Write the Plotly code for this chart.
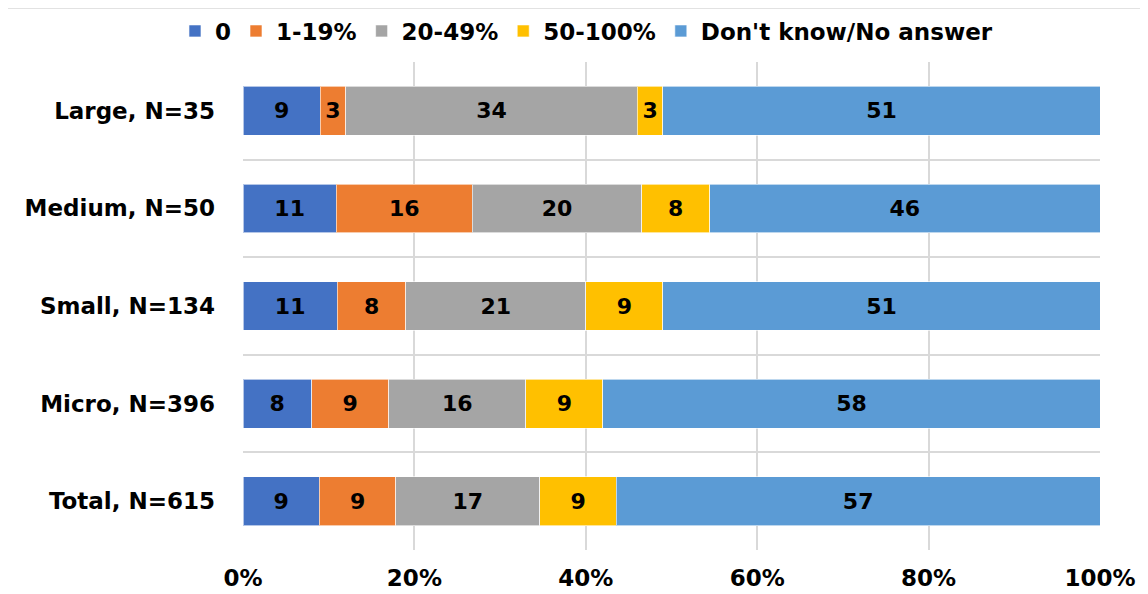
import plotly.graph_objects as go

categories = ["Large, N=35", "Medium, N=50", "Small, N=134", "Micro, N=396", "Total, N=615"]
series_names = ["0", "1-19%", "20-49%", "50-100%", "Don't know/No answer"]
v_zero = [9, 11, 11, 8, 9]
v_1_19 = [3, 16, 8, 9, 9]
v_20_49 = [34, 20, 21, 16, 17]
v_50_100 = [3, 8, 9, 9, 9]
v_dk = [51, 46, 51, 58, 57]
colors = ["#4472C4", "#ED7D31", "#A5A5A5", "#FFC000", "#5B9BD5"]
x_ticks = [0, 20, 40, 60, 80, 100]
x_tick_labels = ["0%", "20%", "40%", "60%", "80%", "100%"]

series_values = [v_zero, v_1_19, v_20_49, v_50_100, v_dk]

font_family = "DejaVu Sans"

fig = go.Figure()
for name, vals, col in zip(series_names, series_values, colors):
    fig.add_trace(go.Bar(
        y=categories, x=vals, name=name, orientation="h",
        marker=dict(color=col, line=dict(color="rgba(255,255,255,0.6)", width=1)),
        text=[str(v) for v in vals], textposition="inside",
        insidetextanchor="middle", textangle=0,
        textfont=dict(family=font_family, size=22, color="black", weight="bold"),
        cliponaxis=False,
    ))

fig.update_layout(
    barmode="stack", barnorm="percent", bargap=0.5,
    width=1148, height=594,
    margin=dict(l=235, r=56, t=54, b=52, autoexpand=False),
    paper_bgcolor="white", plot_bgcolor="white",
    showlegend=True,
    legend=dict(orientation="h", x=0.4008, xanchor="center",
                yref="container", y=1 - 23 / 594, yanchor="middle",
                font=dict(family=font_family, size=23, color="black", weight="bold"),
                traceorder="normal", itemwidth=30, bgcolor="rgba(0,0,0,0)"),
    xaxis=dict(range=[0, 100], tickvals=x_ticks, ticktext=x_tick_labels,
               showgrid=True, gridcolor="#D9D9D9", gridwidth=1.5, zeroline=False,
               showline=False, ticks="", ticklabelstandoff=12, automargin=False,
               tickfont=dict(family=font_family, size=23, color="black", weight="bold")),
    yaxis=dict(type="category", categoryorder="array", categoryarray=categories,
               range=[4.5, -0.5], tickson="boundaries", showgrid=True,
               gridcolor="#D9D9D9", gridwidth=1.5, ticks="", showline=False,
               ticklabelstandoff=27, automargin=False,
               tickfont=dict(family=font_family, size=23, color="black", weight="bold")),
    uniformtext=dict(minsize=8, mode="show"),
    shapes=[dict(type="rect", xref="paper", yref="paper",
                 x0=-0.2754, x1=1.06, y0=-0.12, y1=1.1107,
                 line=dict(color="#D9D9D9", width=1.5), fillcolor="rgba(0,0,0,0)",
                 layer="below")],
)

fig.write_html("out.html")
